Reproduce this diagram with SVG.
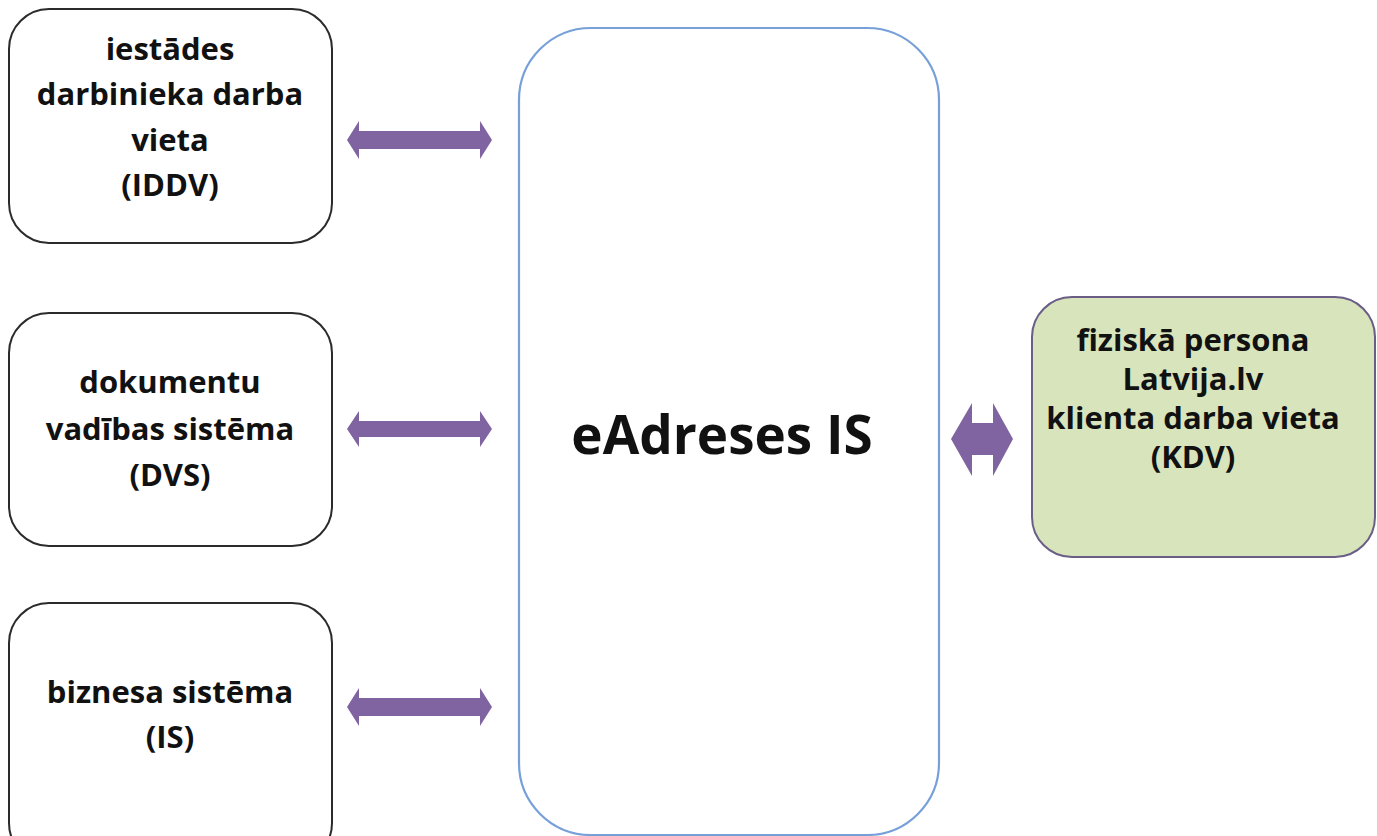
<svg xmlns="http://www.w3.org/2000/svg" width="1377" height="836" viewBox="0 0 1377 836">
<style>
.box{fill:#ffffff;stroke:#2b2b2b;stroke-width:2}
.main{fill:#ffffff;stroke:#77a0d9;stroke-width:2.2}
.kdv{fill:#d8e4bc;stroke:#6a5d86;stroke-width:2}
.t{font-family:"Open Sans","Liberation Sans",sans-serif;font-weight:bold;font-size:31px;fill:#111111;text-anchor:middle}
.k{font-size:31px}
.big{font-size:53px}
.arr{fill:#8064a2}
</style>
<rect width="1377" height="836" fill="#ffffff"/>
<g id="node-iddv">
<rect class="box" x="9" y="9" width="323" height="234" rx="40" ry="40"/>
<text class="t" x="170" y="60">iestādes</text>
<text class="t" x="170" y="105">darbinieka darba</text>
<text class="t" x="170" y="151">vieta</text>
<text class="t" x="170" y="196">(IDDV)</text>
</g>
<g id="node-dvs">
<rect class="box" x="9" y="313" width="323" height="233" rx="40" ry="40"/>
<text class="t" x="170" y="393">dokumentu</text>
<text class="t" x="170" y="440">vadības sistēma</text>
<text class="t" x="170" y="486">(DVS)</text>
</g>
<g id="node-is">
<rect class="box" x="9" y="603" width="323" height="260" rx="40" ry="40"/>
<text class="t" x="170" y="703">biznesa sistēma</text>
<text class="t" x="170" y="748">(IS)</text>
</g>
<g id="node-eadreses">
<rect class="main" x="519" y="28" width="420" height="807" rx="72" ry="72"/>
<text class="t big" x="722" y="454">eAdreses IS</text>
</g>
<g id="node-kdv">
<rect class="kdv" x="1032" y="297" width="343" height="260" rx="40" ry="40"/>
<text class="t k" x="1193" y="351">fiziskā persona</text>
<text class="t k" x="1193" y="390">Latvija.lv</text>
<text class="t k" x="1193" y="429">klienta darba vieta</text>
<text class="t k" x="1193" y="468">(KDV)</text>
</g>
<g id="connectors">
<path class="arr" d="M347,140 L359,121 L359,131 L480,131 L480,121 L492,140 L480,159 L480,149 L359,149 L359,159 Z"/>
<path class="arr" d="M347,429 L359,411 L359,421 L480,421 L480,411 L492,429 L480,447 L480,437 L359,437 L359,447 Z"/>
<path class="arr" d="M347,707 L359,688 L359,698 L480,698 L480,688 L492,707 L480,726 L480,716 L359,716 L359,726 Z"/>
<path class="arr" d="M951,439 L972,403 L972,423 L993,423 L993,403 L1013,439 L993,476 L993,455 L972,455 L972,476 Z"/>
</g>
</svg>
